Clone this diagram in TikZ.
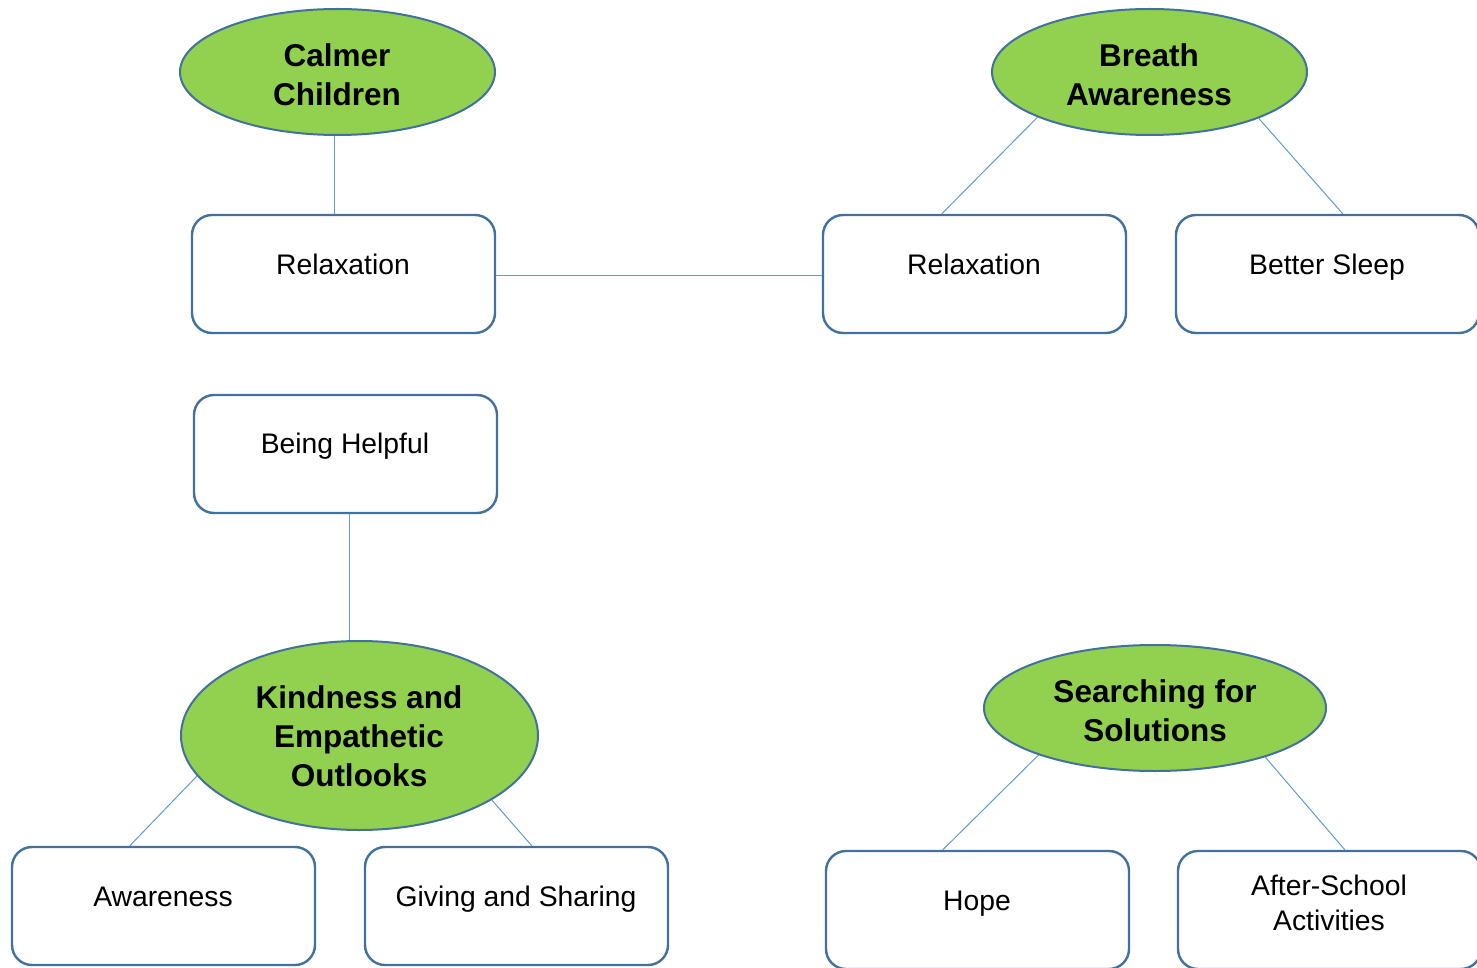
\documentclass[tikz,border=0pt]{standalone}
\usepackage{fontspec}
\setmainfont{Liberation Sans}
\usetikzlibrary{shapes.geometric}
\definecolor{leaf}{HTML}{92D050}
\definecolor{edge}{HTML}{41719C}
\definecolor{link}{HTML}{5B9BD5}
\tikzset{
  bubble/.style={ellipse, draw=edge, fill=leaf, line width=2pt, inner sep=0pt},
  boxnode/.style={draw=edge, fill=white, line width=2.4pt, rounded corners=20pt, minimum width=303pt, minimum height=118pt, inner sep=0pt},
  btxt/.style={font=\fontsize{31.5}{39}\selectfont\bfseries, align=center, inner sep=0pt},
  rtxt/.style={font=\fontsize{28.3}{35}\selectfont, align=center, inner sep=0pt, text height=0.716em, text depth=0pt, yshift=-7pt},
  rtxtm/.style={font=\fontsize{28.3}{35}\selectfont, align=center, inner sep=0pt},
  conn/.style={draw=link, line width=1pt}
}
\begin{document}
\begin{tikzpicture}[x=1pt,y=-1pt]
\useasboundingbox (0,0) rectangle (1477,968);
\clip (0,0) rectangle (1477,968);
% ellipses
\node[bubble, minimum width=315pt, minimum height=126pt] (cc) at (337.5,72) {};
\node[bubble, minimum width=315pt, minimum height=126pt] (ba) at (1149.5,72) {};
\node[bubble, minimum width=357pt, minimum height=189pt] (kd) at (359.5,735.5) {};
\node[bubble, minimum width=342pt, minimum height=126pt] (ss) at (1155,708) {};
% boxes
\node[boxnode] (r1) at (343.5,274) {};
\node[boxnode] (r2) at (974.5,274) {};
\node[boxnode] (bs) at (1327.5,274) {};
\node[boxnode] (bh) at (345.5,454) {};
\node[boxnode] (aw) at (163.5,906) {};
\node[boxnode] (gs) at (516.5,906) {};
\node[boxnode] (hp) at (977.5,910) {};
\node[boxnode] (as) at (1329.5,910) {};
% connectors
\draw[conn] ([xshift=-3pt]cc.south) -- ([xshift=-3pt]cc.south |- r1.north);
\draw[conn] ([yshift=-2pt]r1.east) -- ([yshift=-2pt]r2.west);
\draw[conn] (ba.202.5) -- ([xshift=120pt]r2.north west);
\draw[conn] (ba.337) -- ([xshift=168pt]bs.north west);
\draw[conn] ([xshift=3.5pt]bh.south) -- ([xshift=3.5pt]bh.south |- kd.north);
\draw[conn] (kd.194.5) -- ([xshift=119pt]aw.north west);
\draw[conn] (kd.334) -- ([xshift=168pt]gs.north west);
\draw[conn] (ss.202) -- ([xshift=118pt]hp.north west);
\draw[conn] (ss.336) -- ([xshift=168pt]as.north west);
% texts
\node[btxt] (tcc) at (337,75) {Calmer\\Children};
\node[btxt] (tba) at (1149,75) {Breath\\Awareness};
\node[btxt] (tkd) at (359,736) {Kindness and\\Empathetic\\Outlooks};
\node[btxt] (tss) at (1155,711) {Searching for\\Solutions};
\node[rtxt] (tr1) at (343,264) {Relaxation};
\node[rtxt] (tr2) at (974,264) {Relaxation};
\node[rtxt] (tbs) at (1327,264) {Better Sleep};
\node[rtxt] (tbh) at (345,443) {Being Helpful};
\node[rtxt] (taw) at (163,896) {Awareness};
\node[rtxt] (tgs) at (516,896) {Giving and Sharing};
\node[rtxt] (thp) at (977,900) {Hope};
\node[rtxtm] (tas) at (1329,903) {After-School\\Activities};
\end{tikzpicture}
\end{document}
